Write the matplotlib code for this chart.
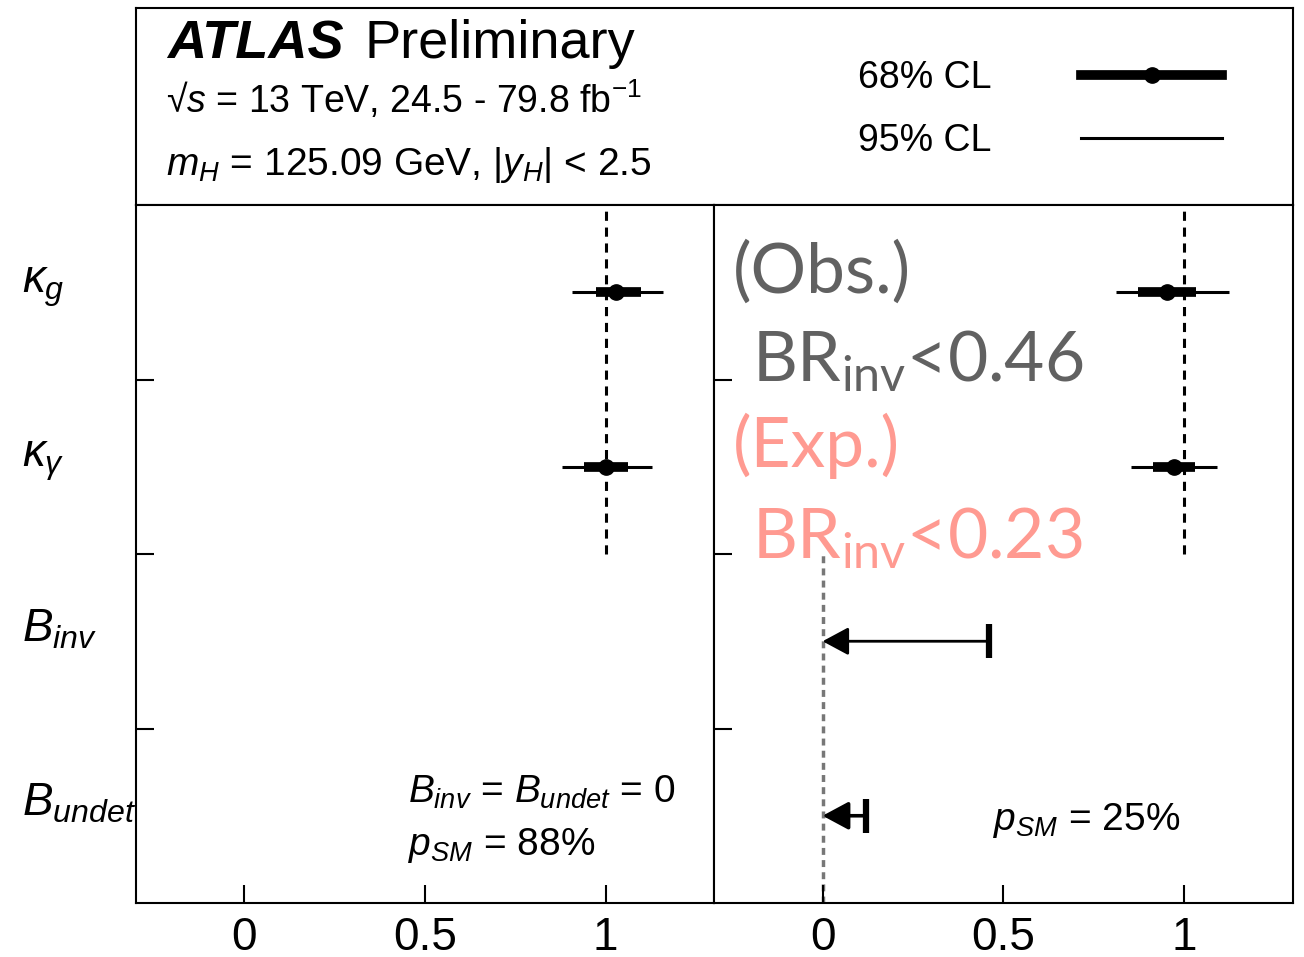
import numpy as np
import matplotlib
matplotlib.use('Agg')
import matplotlib.pyplot as plt
from matplotlib.lines import Line2D

plt.rcParams['font.family'] = 'Liberation Sans'
plt.rcParams['mathtext.fontset'] = 'custom'
plt.rcParams['mathtext.rm'] = 'Liberation Sans'
plt.rcParams['mathtext.it'] = 'Liberation Sans:italic'
plt.rcParams['mathtext.bf'] = 'Liberation Sans:bold'

#parameters, top row first
params = [r'$\kappa_{g}$', r'$\kappa_{\gamma}$', r'$B_{inv}$', r'$B_{undet}$']
rowPos = [3.5, 2.5, 1.5, 0.5]

#left panel: B_inv = B_undet = 0 (kappa_g, kappa_gamma only)
leftCentral = [1.03, 1.00]
left68Lo = [0.972, 0.940]
left68Hi = [1.099, 1.062]
left95Lo = [0.907, 0.880]
left95Hi = [1.160, 1.129]

#right panel: B_inv and B_undet free
rightCentral = [0.951, 0.972]
right68Lo = [0.872, 0.913]
right68Hi = [1.032, 1.028]
right95Lo = [0.810, 0.851]
right95Hi = [1.122, 1.091]

#95% CL upper limits on B_inv, B_undet (lower bound is 0)
rightUpper = [0.46, 0.12]
lowerBound = 0
smValue = 1

xTicks = [0, 0.5, 1]
xTickLabels = ['0', '0.5', '1']

grey = '#616161'
salmon = '#ff9a91'

W, H = 1304, 957
fig = plt.figure(figsize=(W / 100, H / 100), dpi=100)

#pixel box -> figure fraction
def box(x0, y0, x1, y1):
	return [x0 / W, 1 - y1 / H, (x1 - x0) / W, (y1 - y0) / H]

header = fig.add_axes(box(136, 8, 1293, 205))
axL = fig.add_axes(box(136, 205, 714, 903))
axR = fig.add_axes(box(714, 205, 1293, 903))

def drawPanel(ax, central, lo68, hi68, lo95, hi95):
	ax.set_xlim(-0.3, 1.3)
	ax.set_ylim(0, 4)
	kRows = rowPos[:2]
	ax.vlines(smValue, 2, 4, colors='k', linestyles=(0, (3, 2.2)), lw=2.2, zorder=1)
	ax.hlines(kRows, lo95, hi95, colors='k', lw=2.2, zorder=2)
	ax.hlines(kRows, lo68, hi68, colors='k', lw=7, zorder=3)
	ax.plot(central, kRows, 'o', color='k', ms=11, zorder=4)
	ax.set_xticks(xTicks)
	ax.set_xticklabels(xTickLabels)
	ax.set_yticks([1, 2, 3])
	ax.set_yticklabels([])
	ax.tick_params(direction='in', length=13, width=1.5, labelsize=33, pad=9)
	for s in ax.spines.values():
		s.set_linewidth(1.5)

drawPanel(axL, leftCentral, left68Lo, left68Hi, left95Lo, left95Hi)
drawPanel(axR, rightCentral, right68Lo, right68Hi, right95Lo, right95Hi)

#upper limits drawn as arrows toward 0
axR.vlines(lowerBound, 0, 2, colors='#777777', linestyles=(0, (2, 1.5)), lw=2.5, zorder=1)
for lim, y, lw in zip(rightUpper, rowPos[2:], [2, 2.6]):
	axR.annotate('', xy=(lowerBound, y), xytext=(lim, y),
		arrowprops=dict(arrowstyle='-|>,head_length=0.8,head_width=0.43', color='k',
		lw=lw, shrinkA=0, shrinkB=0, mutation_scale=20))
	axR.plot(lim, y, marker='|', ms=25, mew=4.5, color='k')

#row labels
for lab, y in zip(params, rowPos):
	axL.text(-0.197, y, lab, transform=axL.get_yaxis_transform(), ha='left', va='baseline', fontsize=33)

axL.text(0.4706, 0.143, r'$B_{inv}$ = $B_{undet}$ = 0', transform=axL.transAxes, fontsize=28, va='baseline')
axL.text(0.4706, 0.069, r'$p_{SM}$ = 88%', transform=axL.transAxes, fontsize=28, va='baseline')
axR.text(0.482, 0.105, r'$p_{SM}$ = 25%', transform=axR.transAxes, fontsize=28, va='baseline')

#obs/exp annotation
bigFont = dict(transform=axR.transAxes, fontsize=50, family='Lato', va='baseline')
axR.text(0.033, 0.875, '(Obs.)', color=grey, **bigFont)
axR.text(0.066, 0.748, r'BR$_\mathregular{inv}$<0.46', color=grey, **bigFont)
axR.text(0.033, 0.625, '(Exp.)', color=salmon, **bigFont)
axR.text(0.066, 0.494, r'BR$_\mathregular{inv}$<0.23', color=salmon, **bigFont)

#header box
header.set_xlim(0, 1)
header.set_ylim(0, 1)
header.set_xticks([])
header.set_yticks([])
for s in header.spines.values():
	s.set_linewidth(1.5)
header.text(0.0268, 0.746, 'ATLAS', fontsize=39, fontweight='bold', fontstyle='italic', va='baseline')
header.text(0.1975, 0.746, 'Preliminary', fontsize=39, va='baseline')
header.text(0.026, 0.467, '√$s$ = 13 TeV, 24.5 - 79.8 fb$^{-1}$', fontsize=27, va='baseline')
header.text(0.026, 0.152, r'$m_{H}$ = 125.09 GeV, |$y_{H}$| < 2.5', fontsize=28, va='baseline')

h68 = Line2D([], [], color='k', lw=7, marker='o', ms=11)
h95 = Line2D([], [], color='k', lw=2.2)
header.legend([h68, h95], ['68% CL', '95% CL'], loc='center left', bbox_to_anchor=(0.624, 0.483),
	frameon=False, markerfirst=False, fontsize=27, handlelength=3.75, handletextpad=2.4,
	labelspacing=0.72, borderpad=0, borderaxespad=0)

fig.savefig('out.png', dpi=100)
